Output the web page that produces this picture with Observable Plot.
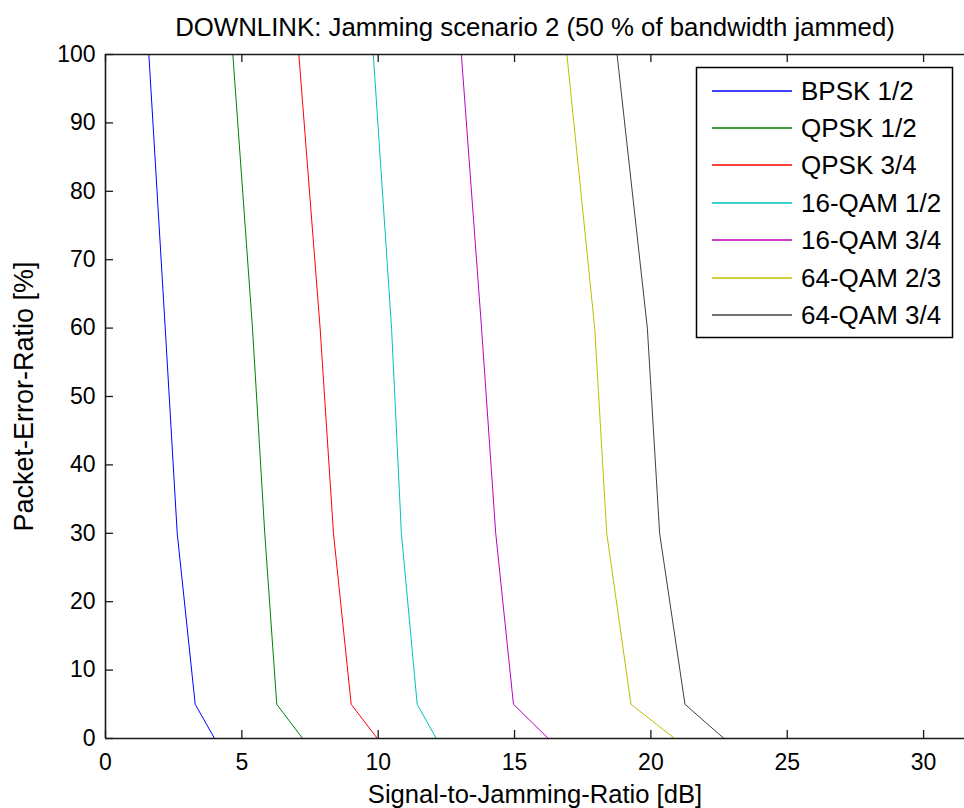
<!DOCTYPE html>
<html><head><meta charset="utf-8">
<script src="https://cdn.jsdelivr.net/npm/d3@7"></script>
<script src="https://cdn.jsdelivr.net/npm/@observablehq/plot@0.6"></script>
<style>
body{margin:0;background:#fff;font-family:Arial,"Liberation Sans",sans-serif;}
#wrap{position:relative;width:964px;height:808px;overflow:hidden;}
</style></head><body><div id="wrap"></div>
<script>
const title = "DOWNLINK: Jamming scenario 2 (50 % of bandwidth jammed)";
const xLabel = "Signal-to-Jamming-Ratio [dB]";
const yLabel = "Packet-Error-Ratio [%]";
const seriesNames = ["BPSK 1/2", "QPSK 1/2", "QPSK 3/4", "16-QAM 1/2", "16-QAM 3/4", "64-QAM 2/3", "64-QAM 3/4"];
const seriesColors = ["#0000ff", "#008000", "#ff0000", "#00bfbf", "#bf00bf", "#bfbf00", "#404040"];
const perLevels = [100, 60, 30, 5, 0];
const sjrBPSK12  = [1.59, 2.19, 2.63, 3.29, 4.00];
const sjrQPSK12  = [4.67, 5.39, 5.84, 6.28, 7.23];
const sjrQPSK34  = [7.09, 7.87, 8.36, 9.01, 9.97];
const sjrQAM16_12 = [9.82, 10.49, 10.85, 11.43, 12.13];
const sjrQAM16_34 = [13.05, 13.79, 14.31, 14.96, 16.24];
const sjrQAM64_23 = [16.92, 17.94, 18.38, 19.27, 20.87];
const sjrQAM64_34 = [18.76, 19.87, 20.32, 21.25, 22.68];
const xTicks = [0, 5, 10, 15, 20, 25, 30];
const yTicks = [0, 10, 20, 30, 40, 50, 60, 70, 80, 90, 100];

const allSjr = [sjrBPSK12, sjrQPSK12, sjrQPSK34, sjrQAM16_12, sjrQAM16_34, sjrQAM64_23, sjrQAM64_34];
const data = [];
allSjr.forEach((arr, i) => arr.forEach((x, j) => data.push({series: seriesNames[i], sjr: x, per: perLevels[j]})));

const W = 964, H = 808, mL = 105, mR = 0, mT = 54, mB = 70;
const fw = W - mL - mR, fh = H - mT - mB, tl = 8;
const axisColor = "#1a1a1a";

const chart = Plot.plot({
  width: W, height: H,
  marginLeft: mL, marginRight: mR, marginTop: mT, marginBottom: mB,
  style: {fontFamily: "Arial, 'Liberation Sans', sans-serif", fontSize: "23px", color: "#000", background: "#fff"},
  x: {domain: [0, 31.5]},
  y: {domain: [0, 100]},
  color: {domain: seriesNames, range: seriesColors},
  marks: [
    Plot.line(data, {x: "sjr", y: "per", z: "series", stroke: "series", strokeWidth: 1}),
    Plot.tickX(xTicks, {x: d => d, insetTop: fh - tl, stroke: axisColor, strokeWidth: 1.3}),
    Plot.tickX(xTicks, {x: d => d, insetBottom: fh - tl, stroke: axisColor, strokeWidth: 1.3}),
    Plot.tickY(yTicks, {y: d => d, insetRight: fw - tl, stroke: axisColor, strokeWidth: 1.3}),
    Plot.ruleX([0], {stroke: axisColor, strokeWidth: 1.6}),
    Plot.ruleY([0, 100], {stroke: axisColor, strokeWidth: 1.6}),
    Plot.axisX(xTicks, {tickSize: 0, tickPadding: 15, label: null, fontSize: 23}),
    Plot.axisY(yTicks, {tickSize: 0, tickPadding: 10, label: null, fontSize: 23}),
    Plot.text([title], {frameAnchor: "top", dy: -27, lineAnchor: "middle", fontSize: 25.8}),
    Plot.text([xLabel], {frameAnchor: "bottom", dy: 56, lineAnchor: "middle", fontSize: 25.6}),
    Plot.text([yLabel], {frameAnchor: "left", dx: -81, rotate: -90, textAnchor: "middle", lineAnchor: "middle", fontSize: 27})
  ]
});
const wrap = document.getElementById("wrap");
wrap.appendChild(chart);

// legend box as an SVG overlay
const NS = "http://www.w3.org/2000/svg";
const lg = document.createElementNS(NS, "svg");
lg.setAttribute("width", W); lg.setAttribute("height", H);
lg.style.position = "absolute"; lg.style.left = "0"; lg.style.top = "0";
const box = document.createElementNS(NS, "rect");
box.setAttribute("x", 696.5); box.setAttribute("y", 67.5);
box.setAttribute("width", 256); box.setAttribute("height", 270);
box.setAttribute("fill", "#fff"); box.setAttribute("stroke", "#000"); box.setAttribute("stroke-width", 1.5);
lg.appendChild(box);
seriesNames.forEach((name, i) => {
  const cy = Math.round(90.5 + i * 37.4);
  const ln = document.createElementNS(NS, "line");
  ln.setAttribute("x1", 712); ln.setAttribute("x2", 792);
  ln.setAttribute("y1", cy); ln.setAttribute("y2", cy);
  ln.setAttribute("stroke", seriesColors[i]); ln.setAttribute("stroke-width", 1.4);
  lg.appendChild(ln);
  const tx = document.createElementNS(NS, "text");
  tx.setAttribute("x", 801); tx.setAttribute("y", cy);
  tx.setAttribute("dy", "0.35em");
  tx.setAttribute("font-family", "Arial, 'Liberation Sans', sans-serif");
  tx.setAttribute("font-size", 26);
  tx.setAttribute("fill", "#000");
  tx.textContent = name;
  lg.appendChild(tx);
});
wrap.appendChild(lg);
</script></body></html>
